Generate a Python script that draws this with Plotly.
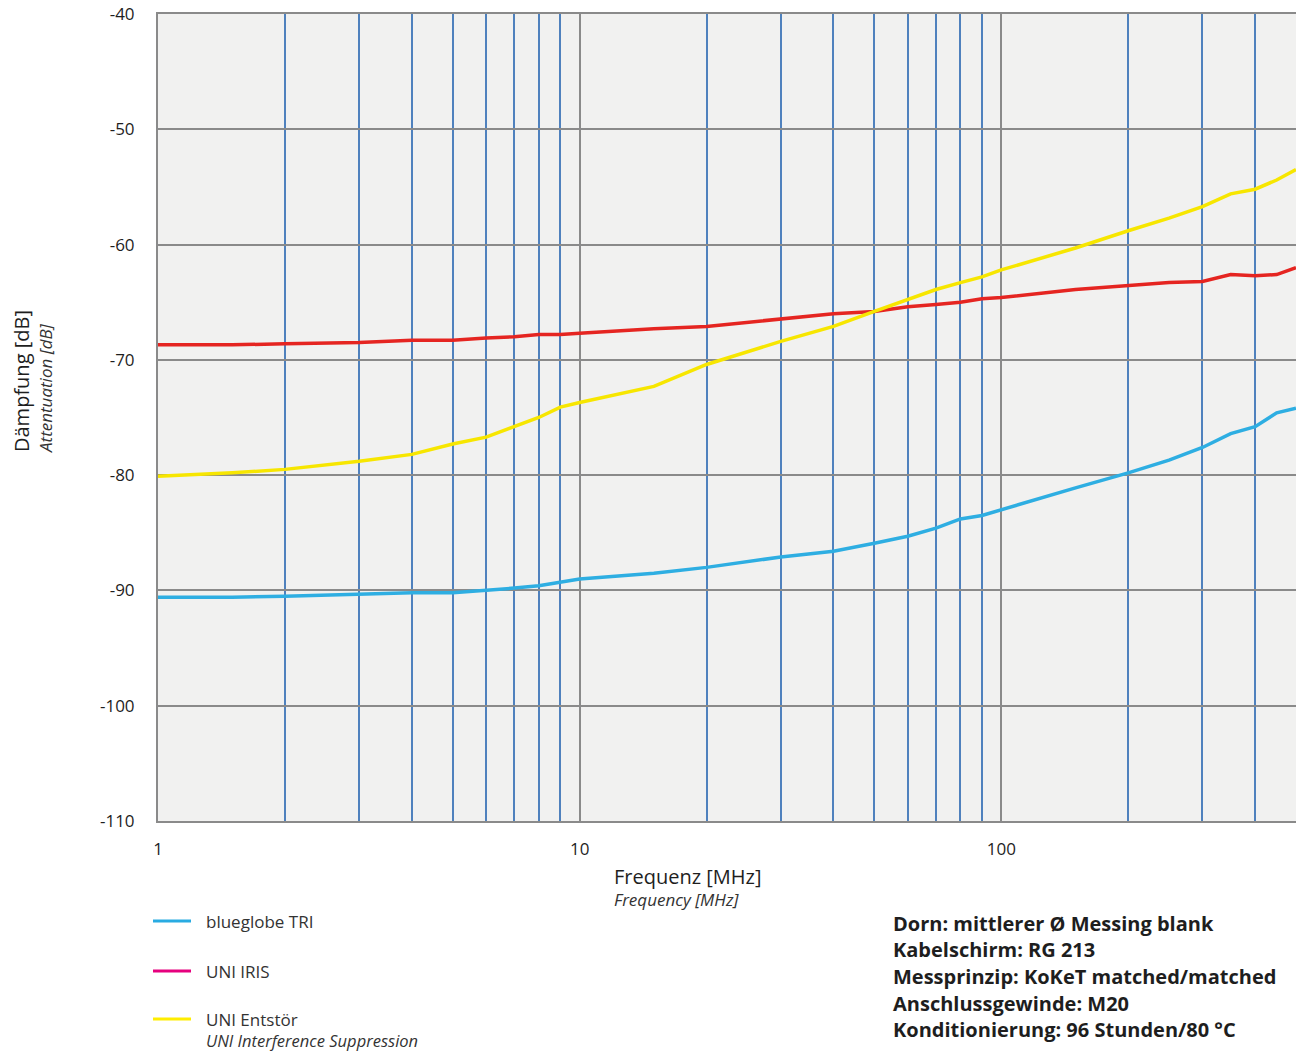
import plotly.graph_objects as go

freq = [1, 1.5, 2, 3, 4, 5, 6, 7, 8, 9, 10, 15, 20, 30, 40, 50, 60, 70, 80, 90,
        100, 150, 200, 250, 300, 350, 400, 450, 500]

blueglobe_tri = [-90.6, -90.6, -90.5, -90.3, -90.2, -90.2, -90.0, -89.8, -89.6, -89.3,
                 -89.0, -88.5, -88.0, -87.1, -86.6, -85.9, -85.3, -84.6, -83.8, -83.5,
                 -83.0, -81.1, -79.8, -78.7, -77.6, -76.4, -75.8, -74.6, -74.2]

uni_iris = [-68.7, -68.7, -68.6, -68.5, -68.3, -68.3, -68.1, -68.0, -67.8, -67.8,
            -67.7, -67.3, -67.1, -66.5, -66.0, -65.8, -65.4, -65.2, -65.0, -64.7,
            -64.6, -63.9, -63.6, -63.3, -63.2, -62.6, -62.7, -62.6, -62.0]

uni_entstoer = [-80.1, -79.8, -79.5, -78.8, -78.2, -77.3, -76.7, -75.8, -75.0, -74.1,
                -73.7, -72.3, -70.4, -68.4, -67.1, -65.8, -64.8, -63.9, -63.3, -62.8,
                -62.2, -60.3, -58.8, -57.7, -56.7, -55.6, -55.2, -54.4, -53.5]

series = [
    ("blueglobe TRI", blueglobe_tri, "#2eaee2", "#29abe2"),
    ("UNI IRIS", uni_iris, "#e52521", "#e6007e"),
    ("UNI Entstör", uni_entstoer, "#f7e600", "#ffed00"),
]
series_subtitle = "UNI Interference Suppression"

y_ticks = list(range(-110, -30, 10))
major_x = [1, 10, 100]
minor_x = [2, 3, 4, 5, 6, 7, 8, 9, 20, 30, 40, 50, 60, 70, 80, 90, 200, 300, 400]

info_lines = [
    "Dorn: mittlerer Ø Messing blank",
    "Kabelschirm: RG 213",
    "Messprinzip: KoKeT matched/matched",
    "Anschlussgewinde: M20",
    "Konditionierung: 96 Stunden/80 °C",
]

W, H = 1296, 1052
L, R, T, B = 158, 1296, 14, 821
FONT = "Open Sans"
TXT = "#1e1e1e"
SUB = "#333333"


def px(x):
    return (x - L) / (R - L)


def py(y):
    return (B - y) / (B - T)


fig = go.Figure()
for name, vals, col, _ in series:
    fig.add_trace(go.Scatter(x=freq, y=vals, mode="lines", name=name,
                             line=dict(color=col, width=3.5), showlegend=False))

fig.update_xaxes(
    type="log", range=[0, 2.699], tickvals=major_x, ticktext=[str(v) for v in major_x],
    showgrid=True, gridcolor="#8a8a8a", gridwidth=2,
    minor=dict(tickvals=minor_x, showgrid=True, gridcolor="#4f81bd", gridwidth=2, ticks=""),
    showline=True, linecolor="#8a8a8a", linewidth=2, mirror=True,
    ticks="", ticklabelstandoff=12, tickfont=dict(size=17, color=TXT, family=FONT),
    zeroline=False,
)
fig.update_yaxes(
    range=[-110, -40], tickvals=y_ticks, ticktext=[str(v) for v in y_ticks],
    showgrid=True, gridcolor="#8a8a8a", gridwidth=2,
    showline=True, linecolor="#8a8a8a", linewidth=2,
    ticks="", ticklabelstandoff=18, tickfont=dict(size=17, color=TXT, family=FONT),
    zeroline=False,
)

ann = []
# axis titles
ann.append(dict(x=px(612), y=py(876), xanchor="left", text="Frequenz [MHz]",
                font=dict(size=20, color=TXT, family=FONT)))
ann.append(dict(x=px(612), y=py(899), xanchor="left", text="<i>Frequency [MHz]</i>",
                font=dict(size=17, color=SUB, family=FONT)))
ann.append(dict(x=px(22), y=py(381), textangle=-90, text="Dämpfung [dB]",
                font=dict(size=20, color=TXT, family=FONT)))
ann.append(dict(x=px(45), y=py(388), textangle=-90, text="<i>Attentuation [dB]</i>",
                font=dict(size=17, color=SUB, family=FONT)))

# legend
shapes = []
leg_y = [921, 971, 1019]
for (name, _, _, lcol), ly in zip(series, leg_y):
    shapes.append(dict(type="line", xref="paper", yref="paper", x0=px(153), x1=px(191),
                       y0=py(ly), y1=py(ly), line=dict(color=lcol, width=3)))
    ann.append(dict(x=px(204), y=py(ly), text=name, xanchor="left",
                    font=dict(size=17, color=SUB, family=FONT)))
ann.append(dict(x=px(204), y=py(1040), text="<i>" + series_subtitle + "</i>", xanchor="left",
                font=dict(size=16.5, color=SUB, family=FONT)))

# test conditions
for i, line in enumerate(info_lines):
    ann.append(dict(x=px(891), y=py(923 + 26.7 * i), text="<b>" + line + "</b>", xanchor="left",
                    font=dict(size=20, color=TXT, family=FONT)))

for a in ann:
    a.update(xref="paper", yref="paper", showarrow=False)
    a.setdefault("xanchor", "center")
    a.setdefault("yanchor", "middle")

fig.update_layout(
    width=W, height=H,
    margin=dict(l=L, r=W - R, t=T, b=H - B),
    plot_bgcolor="#f1f1f0", paper_bgcolor="white",
    annotations=ann, shapes=shapes,
    font=dict(family=FONT),
)

fig.write_html("out.html", config={"displayModeBar": False},
               post_script="document.body.style.margin='0';document.body.style.overflow='hidden';")
